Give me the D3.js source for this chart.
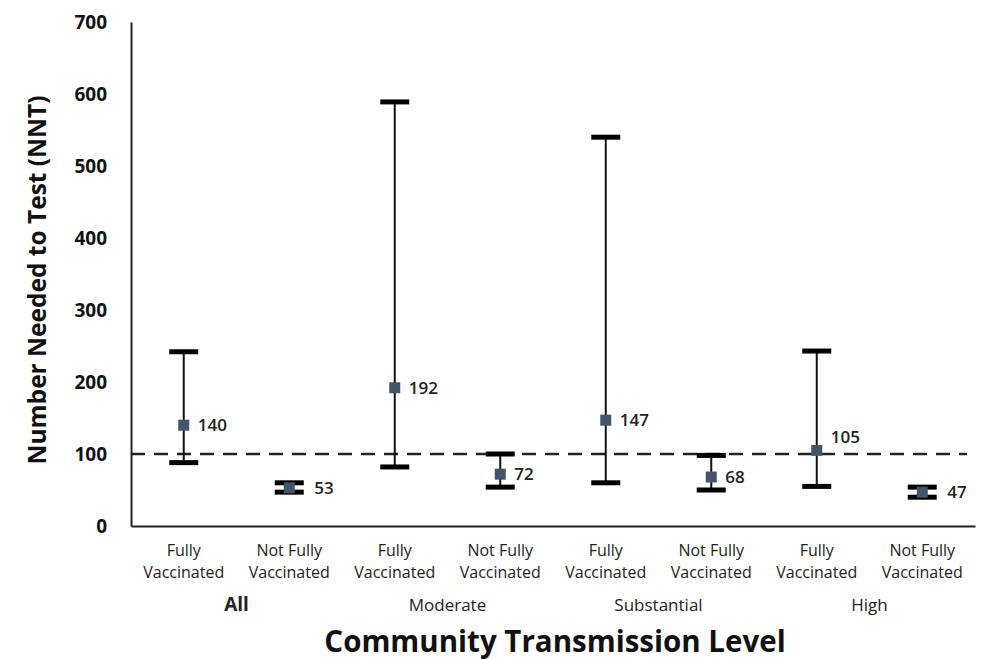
<!DOCTYPE html>
<html>
<head>
<meta charset="utf-8">
<script src="https://cdn.jsdelivr.net/npm/d3@7"></script>
<style>
  html, body { margin: 0; padding: 0; background: #fff; }
  svg { display: block; font-family: "Open Sans", "Liberation Sans", sans-serif; }
</style>
</head>
<body>
<svg id="chart" width="982" height="660"></svg>
<script>
// ---- data ----
const groups = ["All", "Moderate", "Substantial", "High"];
const statuses = ["Fully Vaccinated", "Not Fully Vaccinated"];
const nntValues = [140, 53, 192, 72, 147, 68, 105, 47];
const upperCI   = [242, 60, 589, 100, 540, 98, 243, 54];
const lowerCI   = [88, 47, 82, 54, 60, 50, 55, 40];
const yTicks = [0, 100, 200, 300, 400, 500, 600, 700];
const threshold = 100;

const items = [];
groups.forEach((g, gi) => statuses.forEach((s, si) => {
  const i = gi * statuses.length + si;
  items.push({ id: i, group: g, status: s, value: nntValues[i], hi: upperCI[i], lo: lowerCI[i] });
}));

const svg = d3.select("#chart");
const margin = { left: 131, right: 7, top: 22, bottom: 134 };
const W = 982, H = 660;

const x = d3.scaleBand().domain(items.map(d => d.id)).range([margin.left, W - margin.right]).padding(0);
const y = d3.scaleLinear().domain([0, 700]).range([H - margin.bottom, margin.top]);
const cx = d => x(d.id) + x.bandwidth() / 2;

// y axis (line + labels, no tick marks)
const yAxis = svg.append("g").attr("transform", `translate(${margin.left},0)`)
  .call(d3.axisLeft(y).tickValues(yTicks).tickSize(0).tickPadding(24).tickFormat(d3.format("d")));
yAxis.select(".domain").attr("stroke", "#222").attr("stroke-width", 2);
yAxis.selectAll("text").attr("font-size", 19).attr("font-weight", 700).attr("fill", "#111")
  .attr("font-family", "'Open Sans', sans-serif");

// x axis line
const xAxis = svg.append("g").attr("transform", `translate(0,${y(0)})`)
  .call(d3.axisBottom(x).tickSize(0).tickFormat(""));
xAxis.select(".domain").attr("stroke", "#222").attr("stroke-width", 2);

// threshold dashed line
svg.append("line")
  .attr("x1", margin.left).attr("x2", W - 15)
  .attr("y1", y(threshold)).attr("y2", y(threshold))
  .attr("stroke", "#222").attr("stroke-width", 2.5).attr("stroke-dasharray", "14,9");

// error bars
const capW = 29;
const eb = svg.append("g").selectAll("g").data(items).join("g");
eb.append("line").attr("x1", cx).attr("x2", cx).attr("y1", d => y(d.hi)).attr("y2", d => y(d.lo))
  .attr("stroke", "#111").attr("stroke-width", 2);
eb.append("line").attr("x1", d => cx(d) - capW / 2).attr("x2", d => cx(d) + capW / 2)
  .attr("y1", d => y(d.hi)).attr("y2", d => y(d.hi)).attr("stroke", "#000").attr("stroke-width", 5);
eb.append("line").attr("x1", d => cx(d) - capW / 2).attr("x2", d => cx(d) + capW / 2)
  .attr("y1", d => y(d.lo)).attr("y2", d => y(d.lo)).attr("stroke", "#000").attr("stroke-width", 5);

// markers
const ms = 11;
eb.append("rect").attr("x", d => cx(d) - ms / 2).attr("y", d => y(d.value) - ms / 2)
  .attr("width", ms).attr("height", ms).attr("fill", "#44546A");

// data labels
eb.append("text")
  .attr("x", d => cx(d) + ((y(d.lo) - y(d.hi)) < 30 ? 25 : 14))
  .attr("y", d => y(d.value) + (Math.abs(d.value - threshold) < 10 ? -13 : 0))
  .attr("dy", "0.35em")
  .attr("font-size", 17).attr("font-weight", 600).attr("fill", "#222")
  .text(d => d.value);

// category labels (two lines)
const cat = svg.append("g").selectAll("text").data(items).join("text")
  .attr("text-anchor", "middle").attr("font-size", 16).attr("fill", "#222").attr("font-weight", 500);
cat.append("tspan").attr("x", cx).attr("y", 556).text(d => d.status.replace(/ Vaccinated$/, ""));
cat.append("tspan").attr("x", cx).attr("y", 578).text("Vaccinated");

// group labels
svg.append("g").selectAll("text").data(groups).join("text")
  .attr("x", (g, gi) => (cx(items[gi * 2]) + cx(items[gi * 2 + 1])) / 2)
  .attr("y", 611).attr("text-anchor", "middle")
  .attr("font-size", (g, gi) => gi === 0 ? 19 : 17)
  .attr("font-weight", (g, gi) => gi === 0 ? 700 : 500)
  .attr("fill", "#222")
  .text(g => g);

// axis titles
svg.append("text").attr("x", 555).attr("y", 652).attr("text-anchor", "middle")
  .attr("font-size", 29.5).attr("font-weight", 700).attr("fill", "#111")
  .text("Community Transmission Level");
svg.append("text").attr("transform", "translate(46,280) rotate(-90)").attr("text-anchor", "middle")
  .attr("font-size", 24.5).attr("font-weight", 700).attr("fill", "#111")
  .text("Number Needed to Test (NNT)");
</script>
</body>
</html>
